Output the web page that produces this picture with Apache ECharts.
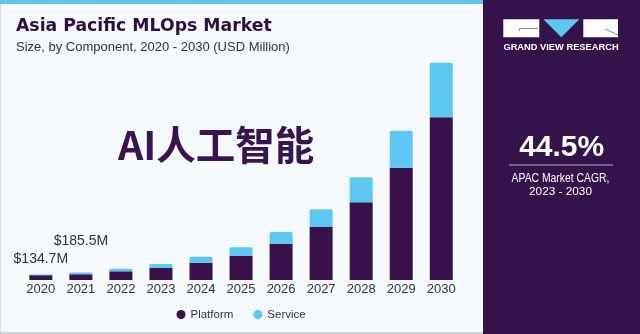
<!DOCTYPE html>
<html>
<head>
<meta charset="utf-8">
<title>Asia Pacific MLOps Market</title>
<script src="https://cdn.jsdelivr.net/npm/echarts@6/dist/echarts.min.js"></script>
<style>
  html, body { margin: 0; padding: 0; background: #f5f9fc; }
  #chart { width: 640px; height: 334px; }
</style>
</head>
<body>
<div id="chart"></div>
<script>
// Market size by component, USD million
const years = ['2020', '2021', '2022', '2023', '2024', '2025', '2026', '2027', '2028', '2029', '2030'];
const platform = [120.0, 143.5, 218, 300, 433, 600, 908, 1325, 1943, 2808, 4068];
const service = [14.7, 42.0, 64, 100, 150, 218, 292, 443, 625, 925, 1365];
// Years whose stacked total is written above the bar, with the label offset
const labelledYears = { '2020': 8, '2021': 24 };

const FONT = '"Liberation Sans", Arial, sans-serif';
const PURPLE = '#38104a';
const BLUE = '#5cc8f2';

const totals = platform.map((v, i) => +(v + service[i]).toFixed(1));

const serviceData = service.map((v, i) => {
  const d = labelledYears[years[i]];
  if (d === undefined) return v;
  return {
    value: v,
    label: {
      show: true,
      position: 'top',
      distance: d,
      formatter: '$' + totals[i].toFixed(1) + 'M',
      fontFamily: FONT,
      fontSize: 14,
      color: '#333'
    }
  };
});

const chart = echarts.init(document.getElementById('chart'));
chart.setOption({
  backgroundColor: '#f5f9fc',
  animation: false,
  grid: { left: 20.8, width: 440.5, top: 40, bottom: 54, containLabel: false },
  xAxis: {
    type: 'category',
    data: years,
    axisLine: { show: false },
    axisTick: { show: false },
    axisLabel: { color: '#333', fontFamily: FONT, fontSize: 13, margin: 3 }
  },
  yAxis: { type: 'value', min: 0, max: 6000, show: false, splitLine: { show: false } },
  legend: {
    left: 176.5,
    top: 308.5,
    padding: 0,
    icon: 'circle',
    itemWidth: 9,
    itemHeight: 9,
    itemGap: 20,
    textStyle: { color: '#333', fontFamily: FONT, fontSize: 11.5 },
    data: ['Platform', 'Service']
  },
  series: [
    {
      name: 'Platform', type: 'bar', stack: 'total', barWidth: 23,
      itemStyle: { color: PURPLE },
      data: platform
    },
    {
      name: 'Service', type: 'bar', stack: 'total', barWidth: 23,
      itemStyle: { color: BLUE, borderRadius: [1.5, 1.5, 0, 0] },
      data: serviceData
    }
  ],
  graphic: [
    // top accent strip and frame lines
    { type: 'rect', shape: { x: 0, y: 0, width: 483, height: 4 }, style: { fill: '#63c5ea' } },
    { type: 'rect', shape: { x: 0, y: 332, width: 483, height: 2 }, style: { fill: '#cfd3d8' } },
    { type: 'rect', shape: { x: 0, y: 4, width: 1, height: 328 }, style: { fill: '#d8dce0' } },
    // headline
    { type: 'text', style: { text: 'Asia Pacific MLOps Market', x: 16, y: 27, textVerticalAlign: 'middle',
      font: 'bold 17.3px "DejaVu Sans", ' + FONT, fill: '#2e0d42' } },
    { type: 'text', style: { text: 'Size, by Component, 2020 - 2030 (USD Million)', x: 16, y: 47, textVerticalAlign: 'middle',
      font: '13px ' + FONT, fill: '#333' } },
    // overlay caption
    { type: 'text', style: { text: 'AI人工智能', x: 118, y: 145, textVerticalAlign: 'middle',
      font: 'bold 39.5px "Noto Sans CJK SC", ' + FONT, fill: '#3a1450' } },
    // side panel
    { type: 'rect', shape: { x: 483, y: 0, width: 157, height: 334 }, style: { fill: '#34124a' } },
    { type: 'rect', shape: { x: 503.3, y: 19.3, width: 36, height: 18 }, style: { fill: '#ffffff' } },
    { type: 'polyline', shape: { points: [[538, 28.5], [519.5, 28.5], [519.5, 31]] }, style: { stroke: '#8a8a8a', lineWidth: 1, fill: null } },
    { type: 'polygon', shape: { points: [[543.3, 19.3], [579.3, 19.3], [561.3, 37.3]] }, style: { fill: '#5cc8f2' } },
    { type: 'rect', shape: { x: 583.3, y: 19.3, width: 34.7, height: 18 }, style: { fill: '#ffffff' } },
    { type: 'polyline', shape: { points: [[605, 29], [618, 35]] }, style: { stroke: '#8a8a8a', lineWidth: 1, fill: null } },
    { type: 'text', style: { text: 'GRAND VIEW RESEARCH', x: 561, y: 47, textAlign: 'center', textVerticalAlign: 'middle',
      font: 'bold 9.3px ' + FONT, fill: '#ffffff' } },
    { type: 'text', style: { text: '44.5%', x: 561.7, y: 148, textAlign: 'center', textVerticalAlign: 'middle',
      font: 'bold 30px ' + FONT, fill: '#ffffff' } },
    { type: 'rect', shape: { x: 509, y: 164.5, width: 104, height: 1 }, style: { fill: '#b9a8c6' } },
    // condensed caption line
    { type: 'text', x: 560.5, y: 178.5, scaleX: 0.83, scaleY: 1,
      style: { text: 'APAC Market CAGR,', x: 0, y: 0, textAlign: 'center', textVerticalAlign: 'middle',
      font: '12.5px ' + FONT, fill: '#ffffff' } },
    { type: 'text', style: { text: '2023 - 2030', x: 560.5, y: 191.5, textAlign: 'center', textVerticalAlign: 'middle',
      font: '11.8px ' + FONT, fill: '#ffffff' } }
  ]
});
</script>
</body>
</html>
